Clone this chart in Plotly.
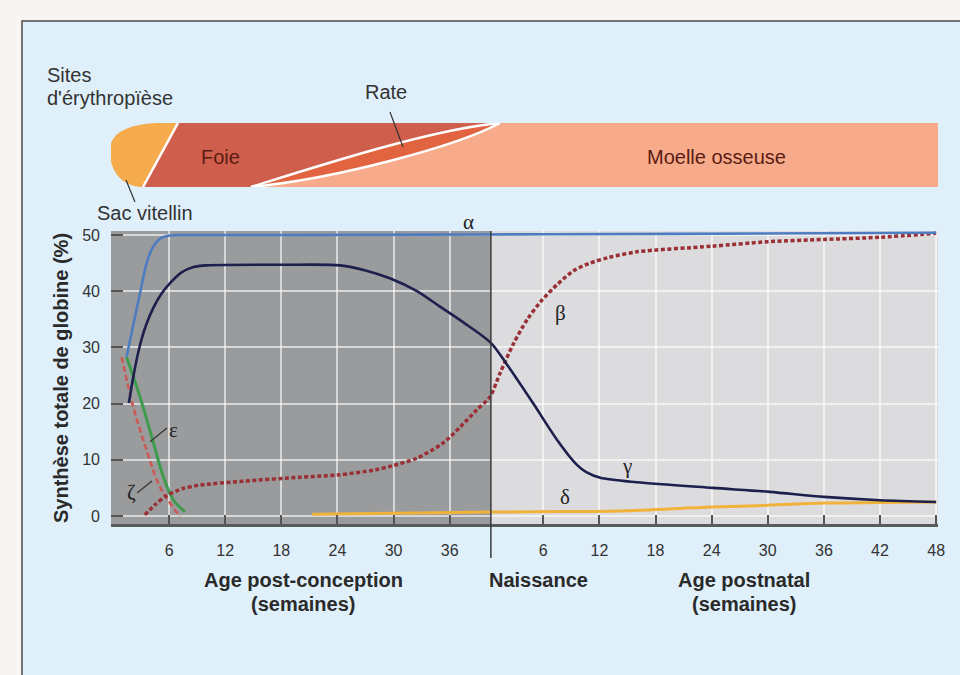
import plotly.graph_objects as go

# ---------------- data ----------------
BIRTH = 40  # weeks post-conception at birth; postnatal ages are plotted at BIRTH + week
prenatal_ticks = [6, 12, 18, 24, 30, 36]
postnatal_ticks = [6, 12, 18, 24, 30, 36, 42, 48]
y_ticks = [0, 10, 20, 30, 40, 50]

# ages in weeks since conception (postnatal = 40 + weeks after birth), values in %
alpha_x = [1.45, 2.3, 3.0, 3.6, 4.2, 5.0, 6.0, 8.0, 20, 40, 60, 88]
alpha_y = [28.3, 35.0, 40.5, 45.0, 47.6, 49.3, 49.9, 50.0, 50.0, 50.1, 50.2, 50.4]

gamma_x = [1.7, 2.2, 2.8, 3.5, 4.3, 5.2, 6.2, 7.3, 8.6, 10, 18, 24.3, 27, 29.6, 32.5,
           35, 37.5, 40.4, 42.1, 44.9, 47.5, 49.6, 50.6, 52.1, 56, 64.1, 70.2, 76, 82, 88]
gamma_y = [20.1, 25.0, 29.8, 33.8, 37.0, 39.6, 41.6, 43.3, 44.3, 44.6, 44.7, 44.6, 43.7,
           42.3, 40.0, 37.2, 34.4, 30.8, 27.0, 20.1, 13.5, 9.1, 7.8, 6.8, 6.0, 5.0, 4.3,
           3.4, 2.8, 2.5]

beta_x = [3.4, 4.5, 5.8, 7.5, 9.3, 14, 20, 24, 28, 30, 32.5, 35.3, 37.1, 38.9, 40.3,
          41.4, 42.8, 44.3, 45.8, 47.5, 49.2, 51.0, 53.0, 56, 64, 70, 76, 82, 88]
beta_y = [0.2, 2.0, 3.7, 4.9, 5.5, 6.2, 6.9, 7.3, 8.2, 9.0, 10.3, 13.0, 15.8, 18.9, 21.2,
          25.5, 30.6, 35.0, 38.3, 41.2, 43.6, 45.0, 46.0, 47.0, 48.0, 48.8, 49.2, 49.6, 50.3]

eps_x = [1.45, 2.89, 4.14, 5.38, 6.45, 7.7]
eps_y = [28.3, 21.2, 14.1, 7.0, 2.85, 0.77]

zeta_x = [0.93, 2.17, 3.6, 5.02, 7.16]
zeta_y = [28.3, 19.4, 11.7, 5.2, -0.1]

delta_x = [21.3, 30, 40.4, 48, 54.2, 64, 70, 76, 82, 88]
delta_y = [0.3, 0.5, 0.7, 0.8, 0.9, 1.6, 1.9, 2.3, 2.4, 2.5]

# erythropoiesis sites band (weeks since conception)
sac_end_bottom, sac_end_top = 3.21, 6.95
spleen_start, liver_end, band_end = 14.75, 41.37, 88.2

# ---------------- layout constants ----------------
W, H = 960, 675
ML, MR, MT, MB = 111, 22, 21, 151
PW, PH = W - ML - MR, H - MT - MB
X_RANGE = [-0.21, 88.2]
Y_RANGE = [-1.42, 50.71]
MAIN_TOP = (524 - 231) / PH
BAND_DOM = [(524 - 187) / PH, (524 - 123) / PH]
BIRTH_LINE = 40.4


def px(x):
    return (x - ML) / PW


def py(y):
    return (524 - y) / PH


FONT = "Liberation Sans, Arial, sans-serif"
SERIF = "Liberation Serif, Times New Roman, serif"

fig = go.Figure()

fig.add_trace(go.Scatter(x=delta_x, y=delta_y, mode="lines",
                         line=dict(color="#f1b23b", width=3, shape="spline")))
fig.add_trace(go.Scatter(x=zeta_x, y=zeta_y, mode="lines",
                         line=dict(color="#c95b55", width=2.6, dash="6px,3px", shape="spline")))
fig.add_trace(go.Scatter(x=eps_x, y=eps_y, mode="lines",
                         line=dict(color="#3f9b4c", width=3, shape="spline")))
fig.add_trace(go.Scatter(x=beta_x, y=beta_y, mode="lines",
                         line=dict(color="#9a2f34", width=3.5, dash="4px,2.5px",
                                   shape="spline", smoothing=0.8)))
fig.add_trace(go.Scatter(x=gamma_x, y=gamma_y, mode="lines",
                         line=dict(color="#1d1f4d", width=2.6, shape="spline", smoothing=0.8)))
fig.add_trace(go.Scatter(x=alpha_x, y=alpha_y, mode="lines",
                         line=dict(color="#4d7cc0", width=2.6, shape="spline")))
# empty trace to create the band subplot
fig.add_trace(go.Scatter(x=[None], y=[None], xaxis="x2", yaxis="y2", hoverinfo="skip"))

tickvals = prenatal_ticks + [BIRTH + w for w in postnatal_ticks]
ticktext = [str(t) for t in prenatal_ticks] + [str(t) for t in postnatal_ticks]

shapes = []
# light blue panel with frame
shapes.append(dict(type="rect", xref="paper", yref="paper", x0=px(22), x1=1.06,
                   y0=-0.4, y1=1.0, fillcolor="#dff0fb",
                   line=dict(color="#4b4b4b", width=1.5), layer="below"))
# prenatal / postnatal backgrounds
shapes.append(dict(type="rect", xref="x", yref="y domain", x0=X_RANGE[0], x1=BIRTH_LINE,
                   y0=0, y1=1, fillcolor="#9a9b9d", line=dict(width=0), layer="below"))
shapes.append(dict(type="rect", xref="x", yref="y domain", x0=BIRTH_LINE, x1=X_RANGE[1],
                   y0=0, y1=1, fillcolor="#dcdcde", line=dict(width=0), layer="below"))
# birth line
shapes.append(dict(type="line", xref="x", yref="paper", x0=BIRTH_LINE, x1=BIRTH_LINE,
                   y0=py(558), y1=MAIN_TOP, line=dict(color="#3a3a3a", width=1.5)))
# leader lines for epsilon / zeta
shapes.append(dict(type="line", xref="x", yref="y", x0=3.96, y0=13.2, x1=5.77, y1=15.66,
                   line=dict(color="#333", width=1.2)))
shapes.append(dict(type="line", xref="x", yref="y", x0=2.57, y0=4.09, x1=4.17, y1=6.23,
                   line=dict(color="#333", width=1.2)))

# band shapes
sac = (f"M {sac_end_bottom},0 C 1.6,0 -0.35,0.15 -0.32,0.58 C -0.3,0.9 2.5,1 5.2,1 "
       f"L {sac_end_top},1 L {sac_end_bottom},0 Z")
upper = f"C 22,0.33 34,0.9 {liver_end},1"
upper_rev = f"C 34,0.9 22,0.33 {spleen_start},0"
lower = f"C 24,0.13 37,0.65 {liver_end},1"
lower_rev = f"C 37,0.65 24,0.13 {spleen_start},0"
liver = (f"M {sac_end_bottom},0 L {sac_end_top},1 L {liver_end},1 {upper_rev} Z")
spleen = f"M {spleen_start},0 {upper} {lower_rev} Z"
marrow = f"M {spleen_start},0 {lower} L {band_end},1 L {band_end},0 Z"
for path, col in [(marrow, "#f8ab8b"), (liver, "#cf5f4c"), (spleen, "#e1633f"), (sac, "#f6ab4c")]:
    shapes.append(dict(type="path", xref="x2", yref="y2", path=path, fillcolor=col,
                       line=dict(width=0)))
for path in [f"M {sac_end_bottom},0 L {sac_end_top},1",
             f"M {spleen_start},0 {upper}", f"M {spleen_start},0 {lower}"]:
    shapes.append(dict(type="path", xref="x2", yref="y2", path=path,
                       line=dict(color="white", width=2.5)))
# leader lines for Rate and Sac vitellin
shapes.append(dict(type="line", xref="paper", yref="paper", x0=px(390), y0=py(112),
                   x1=px(403), y1=py(147), line=dict(color="#333", width=1.2)))
shapes.append(dict(type="line", xref="paper", yref="paper", x0=px(126), y0=py(180),
                   x1=px(135), y1=py(202), line=dict(color="#333", width=1.2)))

ann = []


def txt(text, x, y, size=20, color="#333333", bold=False, family=FONT, xanchor="center",
        xref="paper", yref="paper", angle=0):
    if bold:
        text = f"<b>{text}</b>"
    ann.append(dict(text=text, x=x, y=y, xref=xref, yref=yref, showarrow=False,
                    xanchor=xanchor, yanchor="middle", textangle=angle,
                    font=dict(size=size, color=color, family=family)))


txt("Synthèse totale de globine (%)", px(61), py(378), bold=True, color="#2a2a2a", angle=-90)
txt("Age post-conception", px(303), py(580), bold=True, color="#2a2a2a")
txt("(semaines)", px(303), py(604), bold=True, color="#2a2a2a")
txt("Naissance", px(538), py(580), bold=True, color="#2a2a2a")
txt("Age postnatal", px(744), py(580), bold=True, color="#2a2a2a")
txt("(semaines)", px(744), py(604), bold=True, color="#2a2a2a")
txt("Sites", px(45), py(75), xanchor="left")
txt("d'érythropïèse", px(45), py(98), xanchor="left")
txt("Rate", px(386), py(92))
txt("Foie", px(220), py(157), color="#5a1c12")
txt("Moelle osseuse", px(716), py(157), color="#5a1c12")
txt("Sac vitellin", px(145), py(213))
txt("α", px(468), py(222), size=21, family=SERIF, color="#222")
txt("β", 47.8, 36.1, size=21, family=SERIF, color="#222", xref="x", yref="y")
txt("γ", 55.0, 8.9, size=21, family=SERIF, color="#222", xref="x", yref="y")
txt("δ", 48.3, 3.4, size=21, family=SERIF, color="#222", xref="x", yref="y")
txt("ε", 6.52, 15.3, size=21, family=SERIF, color="#222", xref="x", yref="y")
txt("ζ", 2.03, 4.27, size=21, family=SERIF, color="#222", xref="x", yref="y")

GRID = "rgba(255,255,255,0.6)"
fig.update_layout(
    width=W, height=H, margin=dict(l=ML, r=MR, t=MT, b=MB),
    paper_bgcolor="#f7f4f2", plot_bgcolor="rgba(0,0,0,0)",
    showlegend=False, font=dict(family=FONT, color="#333"),
    xaxis=dict(range=X_RANGE, tickvals=tickvals, ticktext=ticktext, ticks="inside",
               ticklen=9, tickwidth=2, tickcolor="#555", showline=True, linecolor="#5a5a5a",
               linewidth=2.5, showgrid=True, gridcolor=GRID, gridwidth=1.5, zeroline=False,
               tickfont=dict(size=16, color="#333"), ticklabelstandoff=10, anchor="y"),
    yaxis=dict(range=Y_RANGE, domain=[0, MAIN_TOP], tickvals=y_ticks, ticks="inside",
               ticklen=12, tickwidth=2, tickcolor="#555", showline=False, showgrid=True,
               gridcolor=GRID, gridwidth=1.5, zeroline=False,
               tickfont=dict(size=16, color="#333"), ticklabelstandoff=10, anchor="x"),
    xaxis2=dict(range=X_RANGE, domain=[0, 1], visible=False, anchor="y2"),
    yaxis2=dict(range=[0, 1], domain=BAND_DOM, visible=False, anchor="x2"),
    shapes=shapes, annotations=ann,
)

fig.write_html("out.html", config={"displayModeBar": False},
               post_script="document.body.style.margin='0';"
                           "document.body.style.overflow='hidden';")
